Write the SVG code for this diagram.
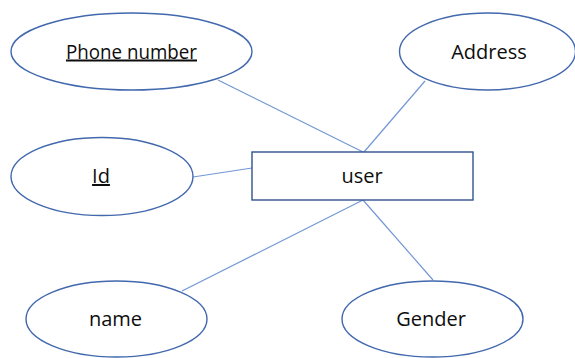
<svg xmlns="http://www.w3.org/2000/svg" width="575" height="358" viewBox="0 0 575 358">
<style>
.attr ellipse{fill:#ffffff;stroke:#4268ad;stroke-width:1.4}
.ent rect{fill:#ffffff;stroke:#2f528f;stroke-width:1.4}
text{font-family:"Open Sans","Liberation Sans",sans-serif;font-size:20px;fill:#0d0d0d;text-anchor:middle}
.u{text-decoration:underline}
#connectors line{stroke:#7397d6;stroke-width:1.2}
</style>
<rect width="575" height="358" fill="#ffffff"/>
<g id="connectors">
<line x1="218" y1="80" x2="363" y2="152"/>
<line x1="425" y1="81" x2="364" y2="152"/>
<line x1="193" y1="177" x2="252" y2="168"/>
<line x1="363" y1="200" x2="182" y2="291"/>
<line x1="363" y1="200" x2="433" y2="280"/>
</g>
<g id="phone" class="attr"><ellipse cx="131.5" cy="51.5" rx="120.5" ry="38.5"/><text class="u" x="131.5" y="58.5" textLength="131" lengthAdjust="spacingAndGlyphs">Phone number</text></g>
<g id="address" class="attr"><ellipse cx="487.5" cy="51.5" rx="88" ry="38.5"/><text x="489" y="59">Address</text></g>
<g id="id" class="attr"><ellipse cx="102" cy="176.5" rx="91" ry="39"/><text class="u" x="101" y="183">Id</text></g>
<g id="name" class="attr"><ellipse cx="116.5" cy="319" rx="90.5" ry="38"/><text x="115.5" y="326">name</text></g>
<g id="gender" class="attr"><ellipse cx="432.5" cy="319" rx="90.5" ry="38"/><text x="431" y="326">Gender</text></g>
<g id="user" class="ent"><rect x="252" y="152" width="221" height="48"/><text x="362" y="183">user</text></g>
</svg>
